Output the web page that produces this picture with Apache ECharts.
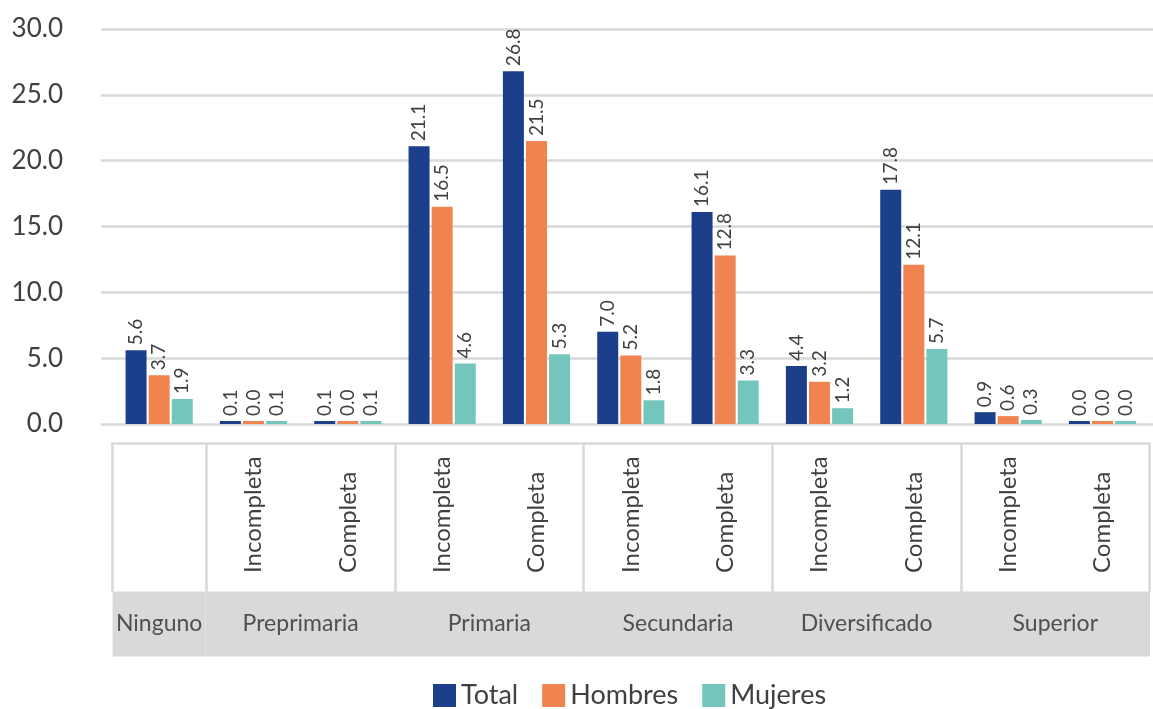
<!DOCTYPE html>
<html>
<head>
<meta charset="utf-8">
<title>Nivel educativo</title>
<script src="https://cdn.jsdelivr.net/npm/echarts@6/dist/echarts.min.js"></script>
<style>
  html, body { margin: 0; padding: 0; background: #fff; }
  #chart { width: 1153px; height: 709px; }
</style>
</head>
<body>
<div id="chart"></div>
<script>
// datos
var categories = ['Ninguno', 'Preprimaria Incompleta', 'Preprimaria Completa', 'Primaria Incompleta', 'Primaria Completa',
    'Secundaria Incompleta', 'Secundaria Completa', 'Diversificado Incompleta', 'Diversificado Completa',
    'Superior Incompleta', 'Superior Completa'];
var subLabels = ['', 'Incompleta', 'Completa', 'Incompleta', 'Completa', 'Incompleta', 'Completa',
    'Incompleta', 'Completa', 'Incompleta', 'Completa'];
var groups = ['Ninguno', 'Preprimaria', 'Primaria', 'Secundaria', 'Diversificado', 'Superior'];
var groupSpans = [1, 2, 2, 2, 2, 2];
var total = [5.6, 0.1, 0.1, 21.1, 26.8, 7.0, 16.1, 4.4, 17.8, 0.9, 0.0];
var hombres = [3.7, 0.0, 0.0, 16.5, 21.5, 5.2, 12.8, 3.2, 12.1, 0.6, 0.0];
var mujeres = [1.9, 0.1, 0.1, 4.6, 5.3, 1.8, 3.3, 1.2, 5.7, 0.3, 0.0];
var yTicks = [0, 5, 10, 15, 20, 25, 30];

var FONT = 'Lato';
var GRID_LEFT = 112, GRID_WIDTH = 1058;
var band = GRID_WIDTH / categories.length;

// posiciones de los grupos (eje de medias bandas)
var groupStarts = [];
var groupAxis = [];
for (var k = 0; k <= categories.length * 2; k++) groupAxis.push('');
var spanOf = {};
var p = 0;
for (var g = 0; g < groups.length; g++) {
    groupStarts.push(p);
    groupAxis[p * 2 + groupSpans[g]] = groups[g];
    spanOf[groups[g]] = groupSpans[g];
    p += groupSpans[g];
}

function barSeries(name, data, color) {
    return {
        name: name,
        type: 'bar',
        xAxisIndex: 1,
        yAxisIndex: 1,
        data: data,
        barWidth: 21,
        barGap: '10%',
        barMinHeight: 3,
        itemStyle: { color: color },
        label: {
            show: true,
            position: 'top',
            distance: 5,
            rotate: 90,
            align: 'left',
            verticalAlign: 'middle',
            fontFamily: FONT,
            fontSize: 19,
            color: '#404040',
            formatter: function (p) { return p.value.toFixed(1); }
        }
    };
}

function groupBox(w) {
    return {
        width: w, lineHeight: 24, padding: [21, 0, 21, 0],
        backgroundColor: '#D9D9D9', align: 'center',
        fontFamily: FONT, fontSize: 23, color: '#505050'
    };
}

var myChart = echarts.init(document.getElementById('chart'));
myChart.setOption({
    animation: false,
    backgroundColor: '#ffffff',
    textStyle: { fontFamily: FONT },
    legend: {
        left: 433,
        top: 682,
        padding: 0,
        itemWidth: 23,
        itemHeight: 23,
        itemGap: 24,
        icon: 'rect',
        textStyle: { fontFamily: FONT, fontSize: 27, color: '#404040' },
        data: ['Total', 'Hombres', 'Mujeres']
    },
    grid: [
        { left: 101, width: 1065, top: 29, bottom: 285 },
        { left: GRID_LEFT, width: GRID_WIDTH, top: 29, bottom: 285 }
    ],
    xAxis: [
        { type: 'category', gridIndex: 0, data: categories, show: false },
        {
            type: 'category',
            gridIndex: 1,
            data: subLabels,
            position: 'bottom',
            offset: 19,
            axisLine: { show: true, onZero: false, lineStyle: { color: '#D9D9D9', width: 2.5 } },
            axisTick: {
                show: true,
                length: 149,
                interval: function (i) { return groupStarts.indexOf(i) >= 0; },
                lineStyle: { color: '#D9D9D9', width: 2.5 }
            },
            axisLabel: {
                interval: 0,
                rotate: 90,
                align: 'left',
                verticalAlign: 'middle',
                margin: 130,
                fontFamily: FONT,
                fontSize: 24,
                color: '#404040'
            }
        },
        {
            type: 'category',
            gridIndex: 1,
            data: groupAxis,
            boundaryGap: false,
            position: 'bottom',
            offset: 188,
            axisLine: { show: false, onZero: false },
            axisTick: { show: false },
            axisLabel: {
                interval: 0,
                margin: 0,
                verticalAlign: 'top',
                formatter: function (v) {
                    if (!v) return '';
                    return '{s' + spanOf[v] + '|' + v + '}';
                },
                rich: {
                    s1: groupBox(band - 3),
                    s2: groupBox(band * 2 - 3)
                }
            }
        }
    ],
    yAxis: [
        {
            type: 'value',
            gridIndex: 0,
            min: yTicks[0],
            max: yTicks[yTicks.length - 1],
            interval: 5,
            axisLine: { show: false },
            axisTick: { show: false },
            splitLine: { lineStyle: { color: '#D9D9D9', width: 2.5 } },
            axisLabel: {
                margin: 38,
                fontFamily: FONT,
                fontSize: 26,
                color: '#404040',
                formatter: function (v) { return v.toFixed(1); }
            }
        },
        {
            type: 'value',
            gridIndex: 1,
            min: yTicks[0],
            max: yTicks[yTicks.length - 1],
            interval: 5,
            show: false
        }
    ],
    series: [
        barSeries('Total', total, '#1C3F8C'),
        barSeries('Hombres', hombres, '#EF8450'),
        barSeries('Mujeres', mujeres, '#74C6BC')
    ]
});
</script>
</body>
</html>
